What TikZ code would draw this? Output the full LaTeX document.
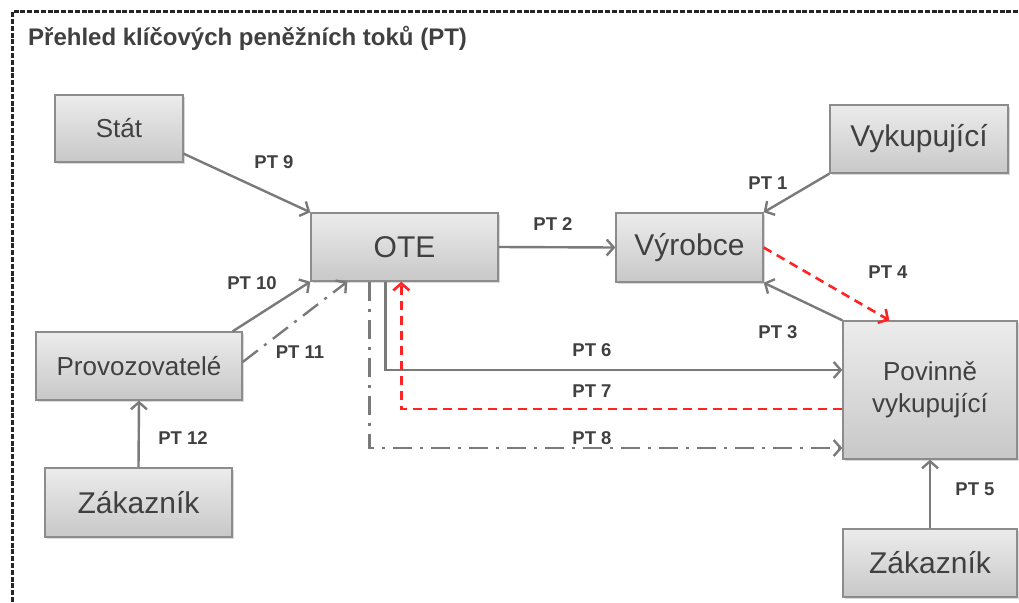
\documentclass[tikz,border=0pt]{standalone}
\usepackage{fontspec}
\setmainfont{Liberation Sans}
\usetikzlibrary{arrows.meta,shadows,calc}
\definecolor{txt}{HTML}{404040}
\definecolor{ln}{HTML}{7A7A7A}
\definecolor{rd}{HTML}{FF2424}
\definecolor{bd}{HTML}{8C8C8C}
\definecolor{btop}{HTML}{ECECEC}
\definecolor{bbot}{HTML}{C8C8C8}
\begin{document}
\begin{tikzpicture}[x=1pt,y=-1pt,
  box/.style={draw=bd, line width=1.4pt, top color=btop, bottom color=bbot,
    drop shadow={shadow xshift=1.5pt, shadow yshift=-1.5pt, opacity=0.3},
    text=txt, inner sep=0pt, align=center},
  big/.style={font=\fontsize{30}{34}\selectfont},
  small/.style={font=\fontsize{26}{32}\selectfont},
  arr/.style={draw=ln, line width=2.4pt, -{Straight Barb[length=7pt,width=16pt]}},
  redarr/.style={draw=rd, line width=2.6pt, dash pattern=on 9pt off 6pt, -{Straight Barb[length=7pt,width=16pt]}},
  dotarr/.style={draw=ln, line width=2.4pt, dash pattern=on 19pt off 8pt on 3pt off 8pt, -{Straight Barb[length=7pt,width=16pt]}},
  lab/.style={text=txt, font=\bfseries\fontsize{18.5}{20}\selectfont, inner sep=0pt}]
\useasboundingbox (0,0) rectangle (1019,602);
\draw[dash pattern=on 5pt off 1.8pt, line width=3pt, black!85] (12,602) -- (12,12) -- (1019,12);
\node[anchor=base west, text=txt, font=\bfseries\fontsize{24}{28}\selectfont, inner sep=0pt] (title) at (28,46) {Přehled klíčových peněžních toků (PT)};

\node[box, small, minimum width=128pt, minimum height=67pt] (stat) at (119,128.5) {Stát};
\node[box, big, minimum width=178pt, minimum height=68pt] (vyk) at (919,139) {Vykupující};
\node[box, big, minimum width=187pt, minimum height=68pt] (ote) at (404.5,247) {OTE};
\node[box, big, minimum width=147pt, minimum height=69pt] (vyr) at (689.5,247.5) {Výrobce};
\node[box, small, minimum width=206pt, minimum height=68pt] (prov) at (139,366) {Provozovatelé};
\node[box, big, minimum width=187pt, minimum height=69pt] (zakl) at (138.5,502.5) {Zákazník};
\node[box, small, minimum width=174pt, minimum height=138pt] (pov) at (930,390) {Povinně\\vykupující};
\node[box, big, minimum width=174pt, minimum height=68pt] (zakr) at (930,563) {Zákazník};

\draw[arr] ([yshift=9pt]stat.south east) -- (ote.north west);
\draw[arr] (ote.east) -- (vyr.west);
\draw[arr] (vyk.south west) -- (vyr.north east);
\draw[redarr] (vyr.east) -- ([xshift=47pt]pov.north west);
\draw[arr] (pov.north west) -- (vyr.south east);
\draw[arr] ([xshift=-10pt]prov.north east) -- (ote.south west);
\draw[dotarr] ([yshift=4pt]prov.east) -- ([xshift=37pt]ote.south west);
\draw[arr] (zakl.north) -- (prov.south);
\draw[arr] (zakr.north) -- (pov.south);
\draw[arr] ([xshift=75pt]ote.south west) |- ([yshift=20pt]pov.west);
\draw[redarr] ([yshift=-19pt]pov.west) -| ([xshift=91pt]ote.south west);
\draw[dotarr] ([xshift=59pt]ote.south west) |- ([yshift=-58pt]pov.west);

\node[lab] (l9) at (274,162) {PT 9};
\node[lab] (l2) at (553,224) {PT 2};
\node[lab] (l1) at (768,183) {PT 1};
\node[lab] (l4) at (888,272) {PT 4};
\node[lab] (l3) at (778,332) {PT 3};
\node[lab] (l10) at (252,283) {PT 10};
\node[lab] (l11) at (300,352) {PT 11};
\node[lab] (l12) at (183,438) {PT 12};
\node[lab] (l5) at (975,489) {PT 5};
\node[lab] (l6) at (592,350) {PT 6};
\node[lab] (l7) at (592,391) {PT 7};
\node[lab] (l8) at (592,438) {PT 8};
\end{tikzpicture}
\end{document}
